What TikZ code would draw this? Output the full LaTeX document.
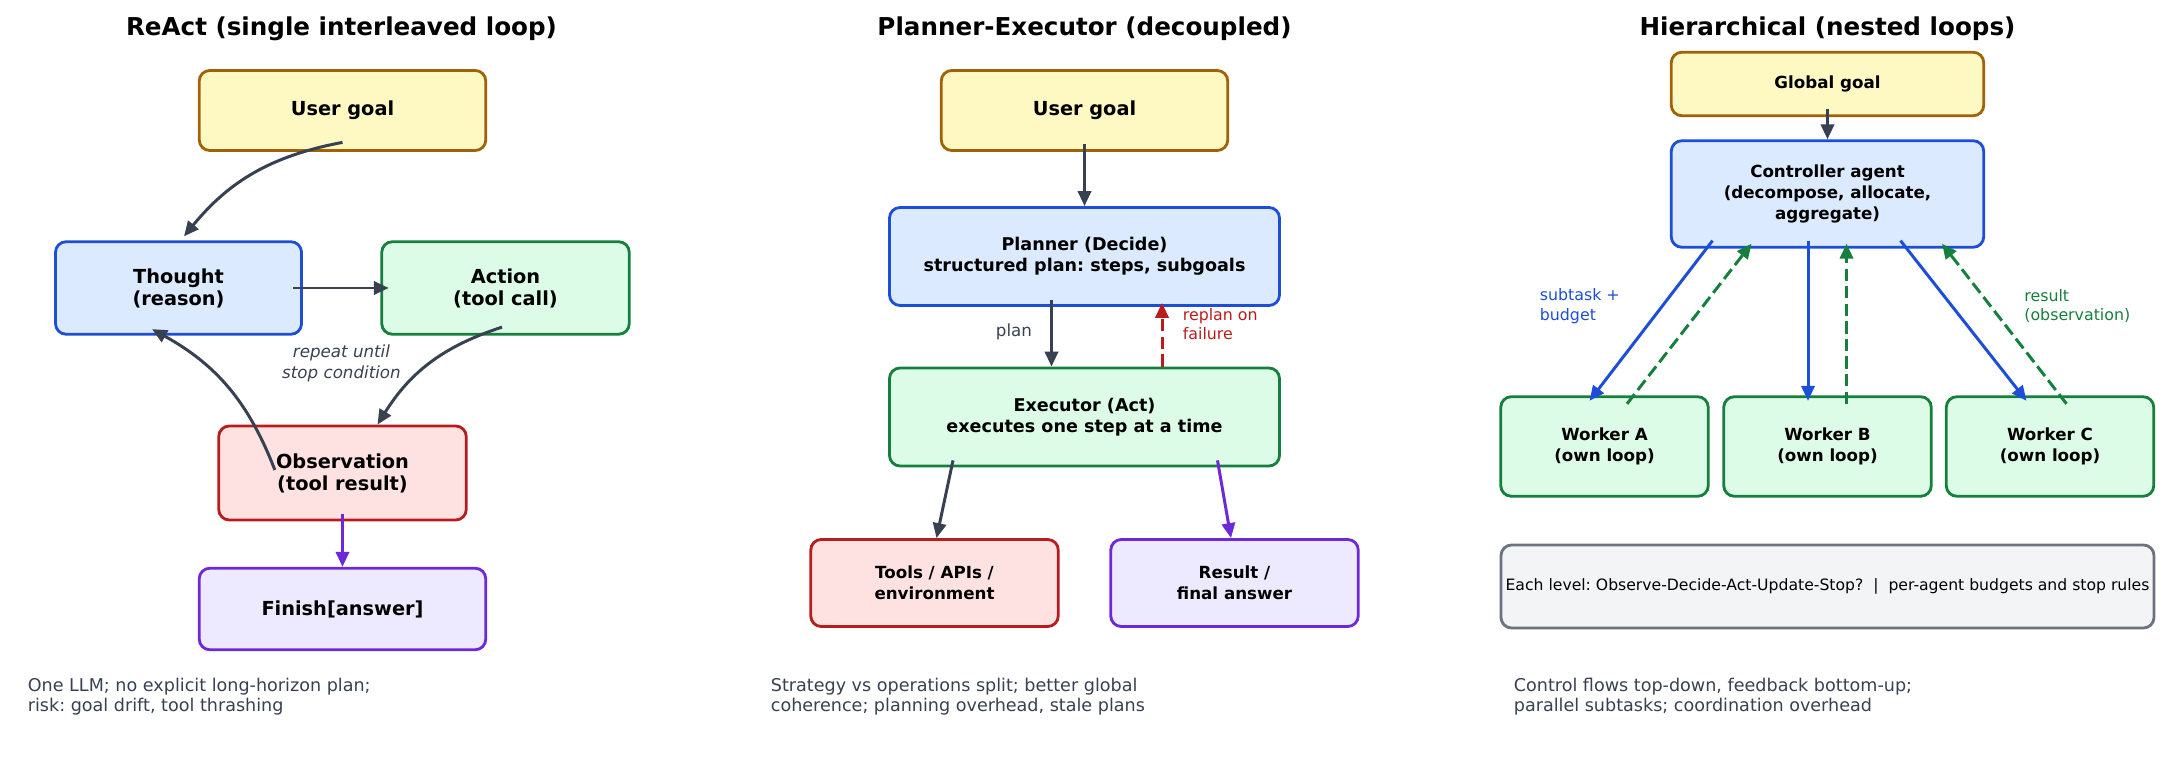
\documentclass[tikz,border=0pt]{standalone}
\usepackage{fontspec}
\setmainfont{DejaVu Sans}[ItalicFont={DejaVu Sans Oblique},BoldFont={DejaVu Sans Bold}]
\usetikzlibrary{arrows.meta}
\frenchspacing

\definecolor{goalfill}{HTML}{FEF9C3}
\definecolor{goalline}{HTML}{A16207}
\definecolor{thinkfill}{HTML}{DBEAFE}
\definecolor{thinkline}{HTML}{1D4ED8}
\definecolor{actfill}{HTML}{DCFCE7}
\definecolor{actline}{HTML}{15803D}
\definecolor{obsfill}{HTML}{FEE2E2}
\definecolor{obsline}{HTML}{B91C1C}
\definecolor{donefill}{HTML}{EDE9FE}
\definecolor{doneline}{HTML}{6D28D9}
\definecolor{notefill}{HTML}{F3F4F6}
\definecolor{noteline}{HTML}{6B7280}
\definecolor{ink}{HTML}{374151}

\tikzset{
  box/.style={rounded corners=6pt, line width=1.6pt, align=center, inner sep=1pt},
  goalbox/.style={box, draw=goalline, fill=goalfill},
  thinkbox/.style={box, draw=thinkline, fill=thinkfill},
  actbox/.style={box, draw=actline, fill=actfill},
  obsbox/.style={box, draw=obsline, fill=obsfill},
  donebox/.style={box, draw=doneline, fill=donefill},
  notebox/.style={box, draw=noteline, fill=notefill},
  txtbig/.style={font=\fontsize{11}{12.5}\selectfont\bfseries},
  txtmid/.style={font=\fontsize{10}{12}\selectfont\bfseries},
  txtsmall/.style={font=\fontsize{9.5}{12}\selectfont\bfseries},
  titletxt/.style={font=\fontsize{14}{16}\selectfont\bfseries},
  labeltxt/.style={font=\fontsize{9}{11}\selectfont, inner sep=0pt, align=left},
  foottxt/.style={font=\fontsize{10}{11.6}\selectfont, text=ink, inner sep=0pt, anchor=west, align=left},
  flow/.style={-{Triangle[length=8.5pt,width=7.5pt]}, line width=1.7pt, color=ink},
  backflow/.style={flow, dash pattern=on 7pt off 3pt},
}

\begin{document}
\begin{tikzpicture}

  \useasboundingbox (0,0) rectangle (43.38,15.24);

  % ReAct
  \node[titletxt] at(6.83,14.66)(titleA){ReAct (single interleaved loop)};
  \node[goalbox, txtbig, minimum width=5.73cm, minimum height=1.60cm] at(6.85,13.03)(goalA){User goal};
  \node[thinkbox, txtbig, minimum width=4.92cm, minimum height=1.85cm] at(3.57,9.48)(thought){Thought\\(reason)};
  \node[actbox, txtbig, minimum width=4.95cm, minimum height=1.85cm] at(10.11,9.48)(action){Action\\(tool call)};
  \node[obsbox, txtbig, minimum width=4.95cm, minimum height=1.88cm] at(6.85,5.78)(observ){Observation\\(tool result)};
  \node[donebox, txtbig, minimum width=5.73cm, minimum height=1.63cm] at(6.85,3.06)(finish){Finish[answer]};
  \node[font=\fontsize{9.5}{11.5}\selectfont\itshape, text=ink, align=center, inner sep=0pt] at(6.83,7.97)(repeat){repeat until\\stop condition};
  \node[foottxt] at(0.55,1.31)(footA){One LLM; no explicit long-horizon plan;\\risk: goal drift, tool thrashing};

  \draw[flow] ([yshift=0.19cm]goalA.south) to[bend right=20] ([xshift=0.11cm,yshift=0.08cm]thought.north);
  \draw[flow] ([xshift=-0.19cm]thought.east) -- ([xshift=0.17cm]action.west);
  \draw[flow] ([xshift=-0.07cm,yshift=0.17cm]action.south) to[bend right=20] ([xshift=0.7cm]observ.north);
  \draw[flow] ([xshift=1.15cm,yshift=0.06cm]observ.west) to[bend right=20] ([xshift=-0.53cm,yshift=0.13cm]thought.south);
  \draw[flow, color=doneline] ([yshift=0.14cm]observ.south) -- (finish.north);

  % Planner-Executor
  \node[titletxt] at(21.69,14.66)(titleB){Planner-Executor (decoupled)};
  \node[goalbox, txtbig, minimum width=5.73cm, minimum height=1.60cm] at(21.69,13.03)(goalB){User goal};
  \node[thinkbox, txtmid, minimum width=7.80cm, minimum height=1.96cm] at(21.69,10.11)(planner){Planner (Decide)\\structured plan: steps, subgoals};
  \node[actbox, txtmid, minimum width=7.80cm, minimum height=1.96cm] at(21.69,6.90)(executor){Executor (Act)\\executes one step at a time};
  \node[obsbox, txtsmall, minimum width=4.95cm, minimum height=1.74cm] at(18.69,3.58)(tools){Tools / APIs /\\environment};
  \node[donebox, txtsmall, minimum width=4.95cm, minimum height=1.74cm] at(24.69,3.58)(result){Result /\\final answer};
  \node[labeltxt, font=\fontsize{9.5}{11}\selectfont, text=ink] at(20.28,8.60)(planlbl){plan};
  \node[labeltxt, text=obsline, anchor=west] at(23.65,8.76)(replanlbl){replan on\\failure};
  \node[foottxt] at(15.41,1.31)(footB){Strategy vs operations split; better global\\coherence; planning overhead, stale plans};

  \draw[flow] ([yshift=0.16cm]goalB.south) -- (planner.north);
  \draw[flow] ([xshift=-0.66cm,yshift=0.14cm]planner.south) -- ([xshift=-0.66cm]executor.north);
  \draw[backflow, color=obsline] ([xshift=1.55cm]executor.north) -- ([xshift=1.55cm,yshift=0.08cm]planner.south);
  \draw[flow] ([xshift=-2.63cm,yshift=0.14cm]executor.south) -- ([xshift=0.04cm]tools.north);
  \draw[flow, color=doneline] ([xshift=2.66cm,yshift=0.14cm]executor.south) -- ([xshift=-0.07cm]result.north);

  % Hierarchical
  \node[titletxt] at(36.55,14.66)(titleC){Hierarchical (nested loops)};
  \node[goalbox, txtsmall, minimum width=6.25cm, minimum height=1.27cm] at(36.55,13.56)(goalC){Global goal};
  \node[thinkbox, txtsmall, minimum width=6.25cm, minimum height=2.13cm] at(36.55,11.36)(control){Controller agent\\(decompose, allocate,\\aggregate)};
  \node[actbox, txtsmall, minimum width=4.15cm, minimum height=1.99cm] at(32.09,6.31)(workA){Worker A\\(own loop)};
  \node[actbox, txtsmall, minimum width=4.15cm, minimum height=1.99cm] at(36.55,6.31)(workB){Worker B\\(own loop)};
  \node[actbox, txtsmall, minimum width=4.15cm, minimum height=1.99cm] at(41.00,6.31)(workC){Worker C\\(own loop)};
  \node[notebox, font=\fontsize{8.9}{11}\selectfont, inner sep=0pt, minimum width=13.06cm, minimum height=1.66cm] at(36.55,3.51)(rules){Each level: Observe-Decide-Act-Update-Stop?\ \ |\ \ per-agent budgets and stop rules};
  \node[labeltxt, text=thinkline, anchor=west] at(30.79,9.12)(sublbl){subtask +\\budget};
  \node[labeltxt, text=actline, anchor=west] at(40.48,9.12)(reslbl){result\\(observation)};
  \node[foottxt] at(30.27,1.31)(footC){Control flows top-down, feedback bottom-up;\\parallel subtasks; coordination overhead};

  \draw[flow] ([yshift=0.16cm]goalC.south) -- (control.north);
  \draw[flow, color=thinkline] ([xshift=-2.30cm,yshift=0.16cm]control.south) -- ([xshift=-0.30cm,yshift=-0.11cm]workA.north);
  \draw[flow, color=thinkline] ([xshift=-0.39cm,yshift=0.16cm]control.south) -- ([xshift=-0.39cm,yshift=-0.11cm]workB.north);
  \draw[flow, color=thinkline] ([xshift=1.46cm,yshift=0.16cm]control.south) -- ([xshift=-0.47cm,yshift=-0.11cm]workC.north);
  \draw[backflow, color=actline] ([xshift=0.45cm,yshift=-0.17cm]workA.north) -- ([xshift=-1.52cm,yshift=0.10cm]control.south);
  \draw[backflow, color=actline] ([xshift=0.38cm,yshift=-0.17cm]workB.north) -- ([xshift=0.38cm,yshift=0.10cm]control.south);
  \draw[backflow, color=actline] ([xshift=0.33cm,yshift=-0.17cm]workC.north) -- ([xshift=2.29cm,yshift=0.10cm]control.south);

\end{tikzpicture}
\end{document}
